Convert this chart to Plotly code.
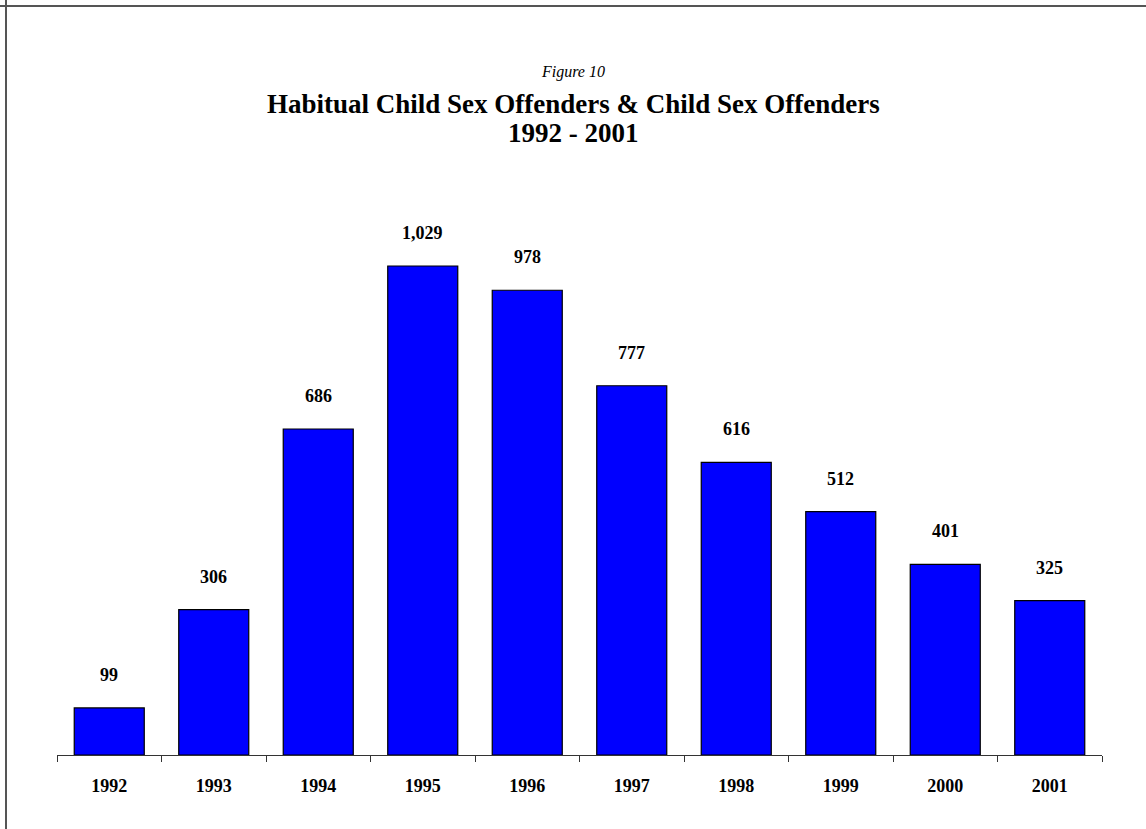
import plotly.graph_objects as go

years = ["1992", "1993", "1994", "1995", "1996", "1997", "1998", "1999", "2000", "2001"]
offenders = [99, 306, 686, 1029, 978, 777, 616, 512, 401, 325]

W, H = 1146, 829
L, R, T, B = 57, 44, 200, 74
pw, ph = W - L - R, H - T - B

def px(x):
    return (x - L) / pw

def py(y):
    return (H - B - y) / ph

fig = go.Figure()
fig.add_trace(go.Bar(
    x=years, y=offenders,
    marker=dict(color="#0000FF", line=dict(color="#000000", width=1.2)),
    width=0.67,
    hoverinfo="x+y",
))

for i, v in enumerate(offenders):
    fig.add_annotation(x=i, y=v, text=f"<b>{v:,}</b>", showarrow=False,
                       yshift=33, yanchor="middle",
                       font=dict(family="Liberation Serif", size=18, color="#000"))

fig.add_annotation(xref="paper", yref="paper", x=px(573), y=py(72), text="<i>Figure 10</i>",
                   showarrow=False, yanchor="middle",
                   font=dict(family="Liberation Serif", size=16, color="#000"))
fig.add_annotation(xref="paper", yref="paper", x=px(573), y=py(104),
                   text="<b>Habitual Child Sex Offenders &amp; Child Sex Offenders</b>",
                   showarrow=False, yanchor="middle",
                   font=dict(family="Liberation Serif", size=27, color="#000"))
fig.add_annotation(xref="paper", yref="paper", x=px(573), y=py(133),
                   text="<b>1992 - 2001</b>",
                   showarrow=False, yanchor="middle",
                   font=dict(family="Liberation Serif", size=27, color="#000"))

# frame lines (top and left)
fig.add_shape(type="line", xref="paper", yref="paper", x0=px(0), x1=px(W), y0=py(6), y1=py(6),
              line=dict(color="#555555", width=2))
fig.add_shape(type="line", xref="paper", yref="paper", x0=px(6), x1=px(6), y0=py(0), y1=py(H),
              line=dict(color="#555555", width=2))

fig.update_layout(
    width=W, height=H,
    margin=dict(l=L, r=R, t=T, b=B, pad=0),
    paper_bgcolor="white", plot_bgcolor="white",
    showlegend=False,
    xaxis=dict(
        type="category", range=[-0.5, len(years) - 0.5],
        showline=True, linecolor="#333333", linewidth=1.2,
        ticks="outside", tickson="boundaries", ticklen=6, tickcolor="#333333", tickwidth=1.2,
        showgrid=False, zeroline=False, tickangle=0,
        tickfont=dict(family="Liberation Serif", size=18, color="#000", weight="bold"),
        ticklabelstandoff=14,
    ),
    yaxis=dict(range=[0, ph / 0.4752], visible=False, showgrid=False, zeroline=False),
)

fig.write_html("out.html")
